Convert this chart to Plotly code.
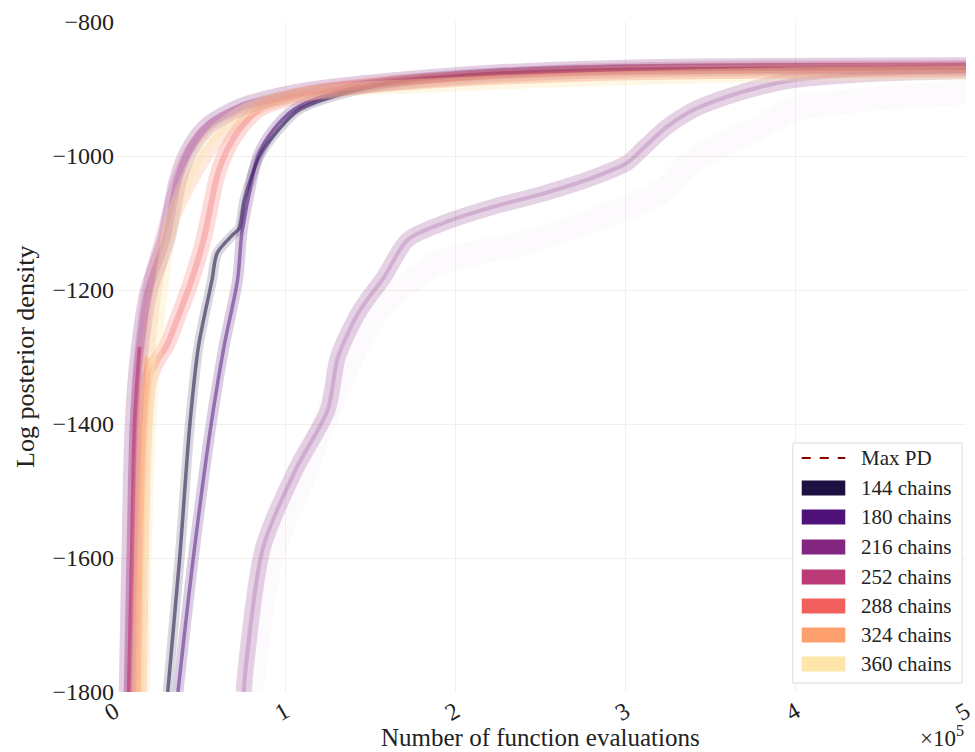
import plotly.graph_objects as go

# ---- data (x = function evaluations, y = log posterior density) ----
max_pd = -785  # not visible inside the plotted window in the reference

x_144 = [31000, 38000, 44000, 49000, 57000, 60000, 69000, 73000, 76000, 85000, 96000, 108000, 131000, 166000, 224000, 300000, 500000]
y_144 = [-1800, -1600, -1400, -1285, -1185, -1145, -1118, -1108, -1066, -1000, -961, -931, -909, -890, -877, -871, -869]

x_180 = [37000, 46000, 56500, 64000, 72000, 74500, 78000, 84000, 93000, 105000, 125000, 160000, 220000, 300000, 500000]
y_180 = [-1800, -1600, -1400, -1285, -1185, -1115, -1066, -1000, -961, -931, -909, -890, -877, -871, -869]

x_216_fast = [7500, 9000, 11000, 14000, 20000, 30000, 37000, 44000, 55000, 74000, 95000, 119000, 166000, 224000, 311000, 500000]
y_216_fast = [-1800, -1600, -1400, -1300, -1200, -1125, -1036, -990, -954, -927, -912, -901, -888, -877, -869, -866]

x_216_slow = [75600, 77000, 87000, 106000, 125000, 131000, 144000, 158000, 172000, 193000, 222000, 253000, 282000, 301000, 311000, 324000, 340000, 359000, 379000, 398000, 440000, 500000]
y_216_slow = [-1800, -1760, -1584, -1469, -1379, -1300, -1230, -1181, -1125, -1100, -1076, -1055, -1031, -1010, -987, -957, -931, -912, -897, -887, -878, -873]

x_216_lag = [80000, 92000, 112000, 132000, 155000, 190000, 240000, 282000, 320000, 340000, 379000, 398000, 440000, 500000]
y_216_lag = [-1800, -1600, -1470, -1340, -1230, -1160, -1130, -1095, -1055, -1006, -957, -931, -916, -905]

x_252 = [8100, 9900, 11600, 14500, 20000, 29000, 36000, 44000, 56000, 76000, 99000, 131000, 183000, 253000, 340000, 500000]
y_252 = [-1800, -1600, -1400, -1285, -1185, -1100, -1036, -990, -954, -927, -910, -897, -885, -872, -866, -864]

x_288 = [14000, 15100, 17400, 20000, 26000, 30000, 38000, 45000, 52000, 57000, 60000, 66000, 73000, 85000, 108000, 148000, 200000, 282000, 500000]
y_288 = [-1800, -1600, -1400, -1334, -1300, -1285, -1234, -1185, -1125, -1065, -1030, -990, -961, -930, -910, -895, -885, -876, -870]

x_324 = [12800, 14000, 16300, 19000, 24400, 33000, 45000, 56000, 66000, 82000, 105000, 148000, 206000, 311000, 500000]
y_324 = [-1800, -1600, -1400, -1300, -1185, -1100, -1036, -990, -961, -930, -910, -895, -885, -876, -872]

x_360 = [16300, 17400, 20000, 23000, 27000, 33000, 42000, 51000, 60000, 78000, 105000, 142000, 200000, 282000, 398000, 500000]
y_360 = [-1800, -1600, -1400, -1300, -1200, -1100, -1036, -990, -961, -930, -910, -900, -893, -885, -878, -876]

legend_labels = ["144 chains", "180 chains", "216 chains", "252 chains", "288 chains", "324 chains", "360 chains"]
legend_colors = ["#1c1042", "#4f127b", "#822681", "#bc3a76", "#f2605d", "#fea06e", "#fde6a8"]

x_tickvals = [0, 100000, 200000, 300000, 400000, 500000]
x_ticktext = ["0", "1", "2", "3", "4", "5"]
y_tickvals = [-1800, -1600, -1400, -1200, -1000, -800]
y_ticktext = ["\u22121800", "\u22121600", "\u22121400", "\u22121200", "\u22121000", "\u2212800"]

FONT = "Liberation Serif"
TXT = "#222222"

fig = go.Figure()

fig.add_trace(go.Scatter(x=[0, 500000], y=[max_pd, max_pd], mode="lines",
                         line=dict(color="#8b0000", width=2, dash="dash"),
                         showlegend=False, hoverinfo="skip"))


def core_part(xs, ys, limit):
    """points of the (steep) lower part of a chain bundle, where it is drawn sharply"""
    if limit is None:
        return xs, ys
    k = 0
    while k < len(ys) and ys[k] <= limit:
        k += 1
    return xs[:k], ys[:k]


# (x, y, colour, (halo width, halo opacity), (core width, core opacity) or None, core upper limit)
groups = [
    (x_144, y_144, legend_colors[0], (10, 0.16), (3.5, 0.55), None),
    (x_180, y_180, legend_colors[1], (11, 0.2), (3.5, 0.5), None),
    (x_216_lag, y_216_lag, legend_colors[2], (24, 0.015), None, None),
    (x_216_slow, y_216_slow, legend_colors[2], (16, 0.2), (4, 0.2), None),
    (x_216_fast, y_216_fast, legend_colors[2], (18, 0.22), (8, 0.25), None),
    (x_252, y_252, legend_colors[3], (10, 0.18), (4, 0.65), -1280),
    (x_288, y_288, legend_colors[4], (16, 0.22), (6, 0.3), None),
    (x_324, y_324, legend_colors[5], (14, 0.22), (5, 0.55), -1280),
    (x_360, y_360, legend_colors[6], (14, 0.3), (4, 0.5), -1280),
]

for xs, ys, col, halo, core, lim in groups:
    fig.add_trace(go.Scatter(x=xs, y=ys, mode="lines",
                             line=dict(color=col, width=halo[0], shape="spline", smoothing=0.8),
                             opacity=halo[1], showlegend=False, hoverinfo="skip"))
    if core is not None:
        cx, cy = core_part(xs, ys, lim)
        fig.add_trace(go.Scatter(x=cx, y=cy, mode="lines",
                                 line=dict(color=col, width=core[0], shape="spline", smoothing=0.8),
                                 opacity=core[1], showlegend=False, hoverinfo="skip"))

# ---- legend drawn as a boxed key (matplotlib-style patches), in paper coordinates ----
L, R, T, B = 115, 975, 22, 692


def px(xp):
    return (xp - L) / (R - L)


def py(yp):
    return (B - yp) / (B - T)


shapes = [dict(type="rect", xref="paper", yref="paper", x0=px(800), x1=px(971), y0=py(683), y1=py(443),
               line=dict(color="#dcdcdc", width=1), fillcolor="rgba(255,255,255,0.85)", layer="above"),
          dict(type="line", xref="paper", yref="paper", x0=px(809), x1=px(853), y0=py(458), y1=py(458),
               line=dict(color="#8b0000", width=2, dash="dash"), layer="above")]
annotations = [dict(text="Max PD", xref="paper", yref="paper", x=px(867), y=py(458),
                    xanchor="left", yanchor="middle", showarrow=False,
                    font=dict(family=FONT, size=21, color=TXT))]
row_y = [488, 517, 547, 577, 606, 635, 664]
for lab, col, ry in zip(legend_labels, legend_colors, row_y):
    shapes.append(dict(type="rect", xref="paper", yref="paper", x0=px(809), x1=px(853),
                       y0=py(ry + 7.5), y1=py(ry - 7.5), line=dict(width=0), fillcolor=col, layer="above"))
    annotations.append(dict(text=lab, xref="paper", yref="paper", x=px(867), y=py(ry),
                            xanchor="left", yanchor="middle", showarrow=False,
                            font=dict(family=FONT, size=21, color=TXT)))

annotations += [
    dict(text="Number of function evaluations", xref="paper", yref="paper",
         x=0.5, y=py(737), xanchor="center", yanchor="middle", showarrow=False,
         font=dict(family=FONT, size=25, color=TXT)),
    dict(text="Log posterior density", xref="paper", yref="paper",
         x=px(24), y=0.5, xanchor="center", yanchor="middle", textangle=-90,
         showarrow=False, font=dict(family=FONT, size=26, color=TXT)),
    dict(text="\u00d710<sup>5</sup>", xref="paper", yref="paper",
         x=1.0, y=py(736), xanchor="right", yanchor="middle",
         showarrow=False, font=dict(family=FONT, size=23, color=TXT)),
]

fig.update_layout(
    width=975, height=752,
    margin=dict(l=115, r=0, t=22, b=60),
    paper_bgcolor="white", plot_bgcolor="white",
    font=dict(family=FONT, size=24, color=TXT),
    showlegend=False,
    xaxis=dict(range=[0, 500000], tickvals=x_tickvals, ticktext=x_ticktext,
               tickangle=-30, showgrid=True, gridcolor="#f3f0e6", gridwidth=1,
               zeroline=False, showline=False, ticks="", ticklabeloverflow="allow",
               tickfont=dict(family=FONT, size=24, color=TXT)),
    yaxis=dict(range=[-1800, -800], tickvals=y_tickvals, ticktext=y_ticktext,
               showgrid=True, gridcolor="#f3f0e6", gridwidth=1,
               zeroline=False, showline=False, ticks="",
               tickfont=dict(family=FONT, size=24, color=TXT)),
    shapes=shapes,
    annotations=annotations,
)

fig.write_html("out.html")
